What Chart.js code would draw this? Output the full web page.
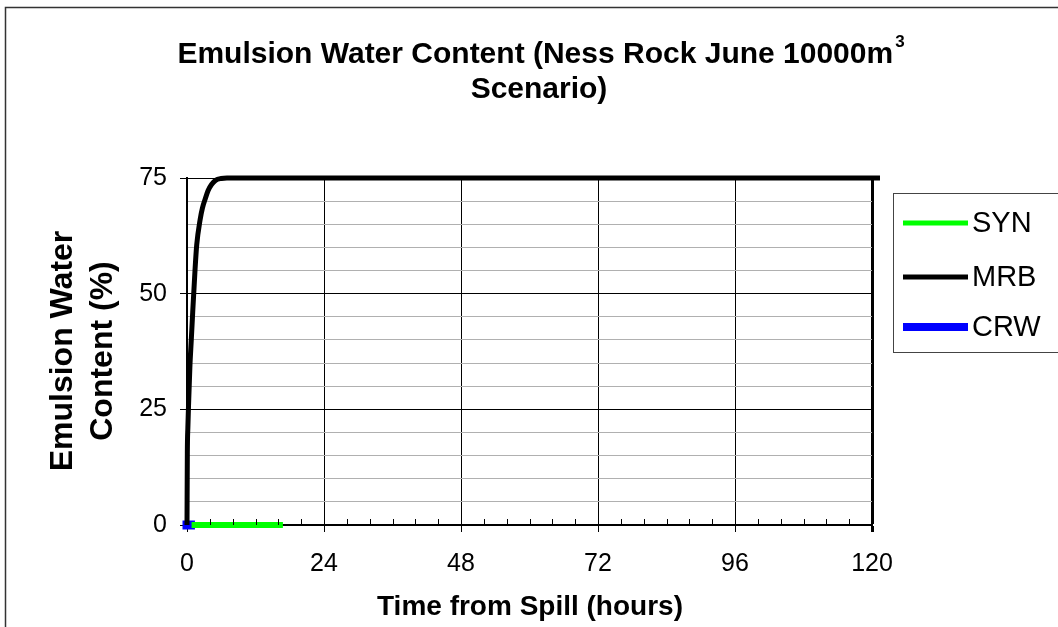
<!DOCTYPE html>
<html>
<head>
<meta charset="utf-8">
<title>Emulsion Water Content</title>
<script src="https://cdn.jsdelivr.net/npm/chart.js@4/dist/chart.umd.min.js"></script>
<style>
  body { margin: 0; background: #fff; }
  canvas { display: block; }
</style>
</head>
<body>
<canvas id="chart" width="1058" height="627"></canvas>
<script>
const seriesNames = ['SYN', 'MRB', 'CRW'];
const seriesColors = ['#00ff00', '#000000', '#0000ff'];

// MRB emulsion water content (%) vs hours
const mrbHours = [0, 0.06, 0.15, 0.3, 0.5, 0.75, 1.0, 1.4, 1.7, 2.3, 2.7, 3.2, 3.7, 4.3, 5.0, 6.0, 7.0, 121.4];
const mrbWater = [0, 15.5, 21, 27, 34, 40, 46, 55, 60.5, 66, 68.5, 70.5, 72.3, 73.6, 74.5, 74.9, 75, 75];

const synHours = [0.8, 16.8];
const synWater = [0, 0];

const crwHours = [0, 0.6];
const crwWater = [0, 0];

const xMajorTicks = [0, 24, 48, 72, 96, 120];
const yMajorTicks = [0, 25, 50, 75];

const FONT = '"Liberation Sans", Arial, sans-serif';

function toPoints(xs, ys) {
  return xs.map((x, i) => ({ x: x, y: ys[i] }));
}

const textPlugin = {
  id: 'texts',
  afterDraw(chart) {
    const ctx = chart.ctx;
    ctx.save();
    ctx.fillStyle = '#000';

    // main title with superscript
    const line1 = 'Emulsion Water Content (Ness Rock June 10000m';
    ctx.font = 'bold 30px ' + FONT;
    const w1 = ctx.measureText(line1).width;
    ctx.font = 'bold 17px ' + FONT;
    const wSup = ctx.measureText('3').width;
    const start = 540 - (w1 + wSup) / 2;
    ctx.textBaseline = 'alphabetic';
    ctx.textAlign = 'left';
    ctx.font = 'bold 30px ' + FONT;
    ctx.fillText(line1, start, 63);
    ctx.font = 'bold 17px ' + FONT;
    ctx.fillText('3', start + w1 + 2, 47);
    ctx.font = 'bold 30px ' + FONT;
    ctx.textAlign = 'center';
    ctx.fillText('Scenario)', 539, 98);

    // x axis title
    ctx.font = 'bold 28px ' + FONT;
    ctx.fillText('Time from Spill (hours)', 530, 615);

    // y axis title
    ctx.save();
    ctx.translate(0, 351);
    ctx.rotate(-Math.PI / 2);
    ctx.font = 'bold 32px ' + FONT;
    ctx.fillText('Emulsion Water', 0, 72);
    ctx.fillText('Content (%)', 0, 112);
    ctx.restore();

    // legend
    ctx.strokeStyle = '#444';
    ctx.lineWidth = 1;
    ctx.strokeRect(893.5, 193.5, 200, 159);
    const rows = [223, 277, 327];
    const widths = [5, 5, 8];
    ctx.font = '29px ' + FONT;
    ctx.textAlign = 'left';
    ctx.textBaseline = 'middle';
    seriesNames.forEach((name, i) => {
      ctx.strokeStyle = seriesColors[i];
      ctx.lineWidth = widths[i];
      ctx.beginPath();
      ctx.moveTo(903, rows[i]);
      ctx.lineTo(968, rows[i]);
      ctx.stroke();
      ctx.fillStyle = '#000';
      ctx.fillText(name, 972, rows[i] + 1);
    });

    // outer frame
    ctx.strokeStyle = '#333';
    ctx.lineWidth = 1.5;
    ctx.strokeRect(5.5, 7.5, 1060, 640);
    ctx.restore();
  }
};

// small inside tick marks on the time axis
const minorTicks = {
  id: 'minorTicks',
  afterDatasetsDraw(chart) {
    const ctx = chart.ctx;
    const x = chart.scales.x;
    const bottom = chart.chartArea.bottom;
    ctx.save();
    ctx.strokeStyle = '#000';
    ctx.lineWidth = 1;
    for (let v = 4; v < 120; v += 4) {
      if (v % 24 === 0) continue;
      const px = Math.round(x.getPixelForValue(v)) + 0.5;
      ctx.beginPath();
      ctx.moveTo(px, bottom);
      ctx.lineTo(px, bottom - 6);
      ctx.stroke();
    }
    ctx.restore();
  }
};

new Chart(document.getElementById('chart'), {
  type: 'line',
  data: {
    datasets: [
      {
        label: seriesNames[0],
        data: toPoints(synHours, synWater),
        borderColor: seriesColors[0],
        borderWidth: 6,
        pointRadius: 0,
        clip: false
      },
      {
        label: seriesNames[1],
        data: toPoints(mrbHours, mrbWater),
        borderColor: seriesColors[1],
        borderWidth: 5,
        pointRadius: 0,
        cubicInterpolationMode: 'monotone',
        clip: false
      },
      {
        label: seriesNames[2],
        data: toPoints(crwHours, crwWater),
        borderColor: seriesColors[2],
        borderWidth: 9,
        borderCapStyle: 'square',
        pointRadius: 0,
        clip: false
      }
    ]
  },
  options: {
    responsive: false,
    animation: false,
    layout: { padding: { top: 178, right: 186, left: 0, bottom: 0 } },
    plugins: {
      legend: { display: false },
      title: { display: false },
      tooltip: { enabled: false }
    },
    scales: {
      x: {
        type: 'linear',
        min: 0,
        max: 120,
        afterFit(s) { s.height = 102; },
        border: { color: '#000', width: 2 },
        grid: {
          color: c => xMajorTicks.includes(c.tick.value) ? '#000' : 'rgba(0,0,0,0)',
          lineWidth: c => c.tick.value === 120 ? 3 : 1,
          tickColor: c => xMajorTicks.includes(c.tick.value) ? '#000' : 'rgba(0,0,0,0)',
          tickLength: 7
        },
        ticks: {
          stepSize: 4,
          autoSkip: false,
          maxRotation: 0,
          padding: 17,
          color: '#000',
          font: { family: FONT, size: 25 },
          callback: v => xMajorTicks.includes(v) ? String(v) : ''
        }
      },
      y: {
        min: 0,
        max: 75,
        afterFit(s) { s.width = 187; },
        border: { color: '#000', width: 2 },
        grid: {
          color: c => yMajorTicks.includes(c.tick.value) ? '#000' : '#b0b0b0',
          tickColor: c => yMajorTicks.includes(c.tick.value) ? '#000' : 'rgba(0,0,0,0)',
          tickLength: 7
        },
        ticks: {
          stepSize: 5,
          autoSkip: false,
          padding: 13,
          color: '#000',
          font: { family: FONT, size: 25 },
          callback: v => yMajorTicks.includes(v) ? String(v) : ''
        }
      }
    }
  },
  plugins: [minorTicks, textPlugin]
});
</script>
</body>
</html>
